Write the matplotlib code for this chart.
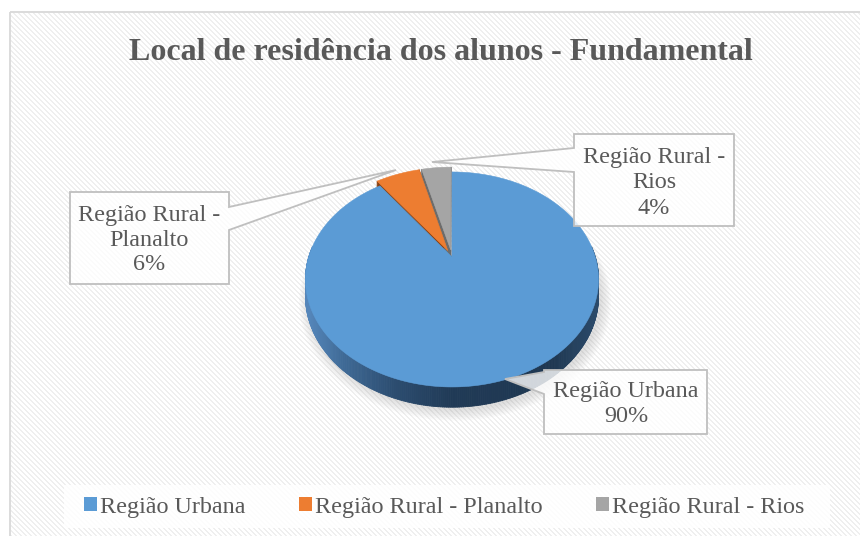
import numpy as np
import matplotlib
matplotlib.use("Agg")
import matplotlib.pyplot as plt
from matplotlib.patches import Polygon, Rectangle, Patch
from matplotlib.collections import PolyCollection
from matplotlib.colors import to_rgb

# ---------------- data ----------------
categories = ["Região Urbana", "Região Rural - Planalto", "Região Rural - Rios"]
values = [90, 6, 4]
label_texts = ["Região Urbana\n90%", "Região Rural -\nPlanalto\n6%", "Região Rural -\nRios\n4%"]
title = "Local de residência dos alunos - Fundamental"

# ---------------- style ----------------
top_colors = ["#5B9BD5", "#ED7D31", "#A5A5A5"]
wall_colors = ["#203A56", "#8B4010", "#6C6C6C"]
explode = [0.0, 0.07, 0.07]
text_color = "#595959"
FONT = "Liberation Serif"

W, H = 860, 536
fig = plt.figure(figsize=(8.6, 5.36), dpi=100)
ax = fig.add_axes([0, 0, 1, 1])

# striped background
yy, xx = np.mgrid[0:H, 0:W]
pat = ((xx - yy) % 5) < 2
img = np.ones((H, W, 3))
img[pat] = 0.94
img[:11, :] = 1.0
img[:, :9] = 1.0
ax.imshow(img, extent=(0, W, H, 0), interpolation="nearest", aspect="auto", zorder=0)
ax.set_xlim(0, W)
ax.set_ylim(H, 0)
ax.axis("off")
ax.add_patch(Rectangle((9.5, 11.5), 900, 600, fill=False, ec="#D9D9D9", lw=1.3, zorder=1))

# ---------------- 3D pie with perspective ----------------
cx, cy = 452.0, 257.0
A, B, k, D = 143.3, 102.8, 0.209, 16.0


def proj(x, y, z=0.0):
    w = 1 + k * y
    return (cx + A * x / w, cy - B * y / w + D * z / w)


blue_grad = [(0.0, "#5586BA"), (0.12, "#3F6A96"), (0.3, "#2C4D70"),
             (0.5, "#203A56"), (0.85, "#1F3852"), (1.0, "#2B4A6A")]


def blue_wall(u):
    f = (u - (cx - A)) / (2 * A)
    f = min(max(f, 0), 1)
    for (f0, c0), (f1, c1) in zip(blue_grad[:-1], blue_grad[1:]):
        if f0 <= f <= f1:
            t = (f - f0) / (f1 - f0)
            a, b = np.array(to_rgb(c0)), np.array(to_rgb(c1))
            return tuple(a + (b - a) * t)
    return to_rgb(blue_grad[-1][1])


# soft shadow
tt = np.linspace(0, 2 * np.pi, 360)
for d in np.linspace(0.0, 0.06, 7):
    pts = [proj((1 + d) * np.sin(t), (1 + d) * np.cos(t), 1.0) for t in tt]
    pts = [(u + 3, v + 3) for u, v in pts]
    ax.add_patch(Polygon(pts, closed=True, fc="#808080", ec="none", alpha=0.035, zorder=1.5))

total = float(sum(values))
cum = np.concatenate([[0], np.cumsum(values)]) / total * 2 * np.pi
wall_polys, wall_cols, tops = [], [], []
for i, v in enumerate(values):
    a0, a1 = cum[i], cum[i + 1]
    am = 0.5 * (a0 + a1)
    ox, oy = explode[i] * np.sin(am), explode[i] * np.cos(am)
    n = max(4, int(np.degrees(a1 - a0) * 1.5))
    ts = np.linspace(a0, a1, n)
    # radial walls
    for t in (a0, a1):
        rx, ry = ox + np.sin(t), oy + np.cos(t)
        wall_polys.append([proj(ox, oy, 0), proj(rx, ry, 0), proj(rx, ry, 1), proj(ox, oy, 1)])
        wall_cols.append(to_rgb(wall_colors[i]))
    # rim walls
    for t0, t1 in zip(ts[:-1], ts[1:]):
        if np.cos(0.5 * (t0 + t1)) > 0.1:
            continue
        p0 = (ox + np.sin(t0), oy + np.cos(t0))
        p1 = (ox + np.sin(t1), oy + np.cos(t1))
        q = [proj(*p0, 0), proj(*p1, 0), proj(*p1, 1), proj(*p0, 1)]
        wall_polys.append(q)
        um = 0.5 * (q[0][0] + q[1][0])
        wall_cols.append(blue_wall(um) if i == 0 else to_rgb(wall_colors[i]))
    top = [proj(ox, oy)] + [proj(ox + np.sin(t), oy + np.cos(t)) for t in ts]
    tops.append((top, top_colors[i]))

ax.add_collection(PolyCollection(wall_polys, facecolors=wall_cols, edgecolors=wall_cols,
                                 linewidths=0.6, zorder=2))
for top, col in tops:
    ax.add_patch(Polygon(top, closed=True, fc=col, ec=col, lw=0.4, zorder=3))

# ---------------- callouts ----------------
callouts = [
    [(544, 370), (707, 370), (707, 434), (544, 434), (544, 394), (505, 379), (544, 372)],
    [(70, 192), (229, 192), (229, 207), (396, 170), (229, 230), (229, 284), (70, 284)],
    [(574, 134), (734, 134), (734, 226), (574, 226), (574, 172), (432, 162), (574, 148)],
]
label_pos = [(626, 404), (149, 240), (654, 183)]
for poly, txt, (tx, ty) in zip(callouts, label_texts, label_pos):
    ax.add_patch(Polygon(poly, closed=True, fc=(1, 1, 1, 0.8), ec="#BFBFBF", lw=1.3, zorder=5))
    ax.text(tx, ty, txt, ha="center", va="center", fontsize=17.4, family=FONT,
            color=text_color, linespacing=1.25, zorder=6)

# ---------------- title ----------------
ax.text(441, 52, title, ha="center", va="center", fontsize=23, fontweight="bold",
        family=FONT, color=text_color, zorder=6)

# ---------------- legend ----------------
ax.add_patch(Rectangle((64, 485), 766, 43, fc="white", ec="none", alpha=0.85, zorder=4))
handles = [Patch(fc=c, ec="none") for c in top_colors]
leg = fig.legend(handles, categories, ncol=3, loc="center",
                 bbox_to_anchor=(444 / W, 1 - 507 / H), frameon=False,
                 prop={"family": FONT, "size": 17.4}, labelcolor=text_color,
                 handlelength=0.55, handleheight=0.55, handletextpad=0.12,
                 columnspacing=2.2)

fig.savefig("out.png", dpi=100)
